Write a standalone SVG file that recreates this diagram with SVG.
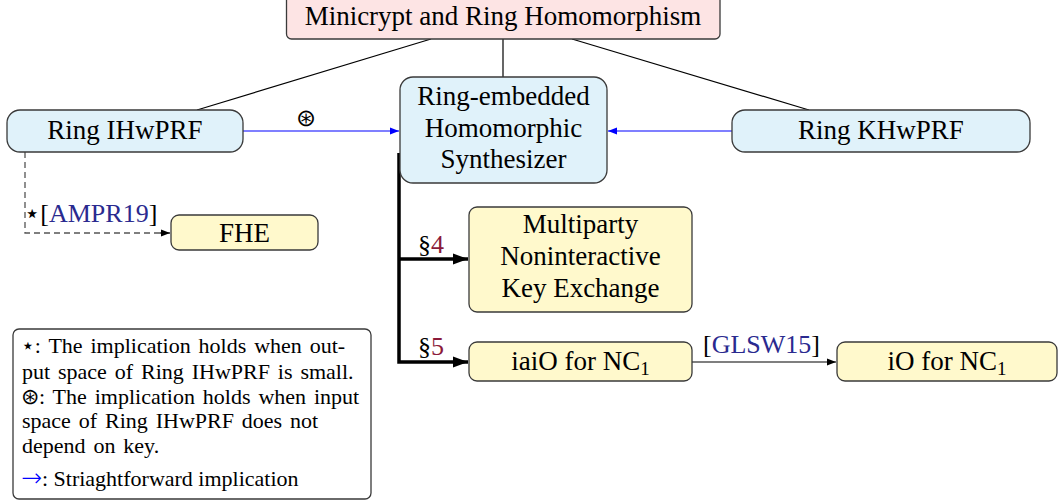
<svg xmlns="http://www.w3.org/2000/svg" width="1058" height="503" viewBox="0 0 1058 503">
<style>
.node{stroke:#3a3a3a;stroke-width:1.3}
.blue{fill:#e0f2fa}
.yel{fill:#fff9cc}
.pink{fill:#fde4e4}
.t{font-family:"Liberation Serif","Times New Roman",serif;font-size:27px;fill:#000;text-anchor:middle}
.lbl{font-family:"Liberation Serif","Times New Roman",serif;font-size:26px;fill:#000}
.lg{font-family:"Liberation Serif","Times New Roman",serif;font-size:22px;fill:#000}
.sym{font-family:"DejaVu Sans",sans-serif}
.osym{font-family:"DejaVu Sans ExtraLight","DejaVu Sans",sans-serif;font-weight:200}
.cite{fill:#2a2a8f}
.sec{fill:#8b1a3a}
.thin{fill:none;stroke:#000;stroke-width:1.2}
.bl{fill:none;stroke:#0000ff;stroke-width:1.2}
.thick{fill:none;stroke:#000;stroke-width:3.5}
.dash{fill:none;stroke:#555;stroke-width:1.3;stroke-dasharray:6,4}
</style>
<defs>
<marker id="ab" markerWidth="10" markerHeight="8" refX="9" refY="4" orient="auto" markerUnits="userSpaceOnUse"><path d="M0,0.5 L9,4 L0,7.5 Z" fill="#0000ff"/></marker>
<marker id="ak" markerWidth="10" markerHeight="8" refX="9" refY="4" orient="auto" markerUnits="userSpaceOnUse"><path d="M0,0.5 L9,4 L0,7.5 Z" fill="#000"/></marker>
<marker id="abig" markerWidth="16" markerHeight="14" refX="15" refY="7" orient="auto" markerUnits="userSpaceOnUse"><path d="M0,1.5 L15,7 L0,12.5 Z" fill="#000"/></marker>
</defs>

<g id="connectors">
<path class="thin" d="M431,39 L197,110"/>
<path class="thin" d="M503,39 L503,77"/>
<path class="thin" d="M572,39 L809,110"/>
<path class="bl" d="M243,131 H399" marker-end="url(#ab)"/>
<path class="bl" d="M732,131 H608" marker-end="url(#ab)"/>
<path class="dash" d="M25,152 V233 H162"/>
<path class="thin" d="M160,233 H170" marker-end="url(#ak)"/>
<path class="thick" d="M399,153 V362 H468" marker-end="url(#abig)"/>
<path class="thick" d="M399,259 H468" marker-end="url(#abig)"/>
<path class="thin" d="M692,362 H836" marker-end="url(#ak)"/>
<text class="osym" x="306" y="126" font-size="24" text-anchor="middle" fill="#000">⊛</text>
<text class="lbl" x="24" y="222"><tspan class="sym" font-size="26">⋆</tspan>[<tspan class="cite">AMPR19</tspan>]</text>
<text class="lbl" x="418" y="253">§<tspan class="sec">4</tspan></text>
<text class="lbl" x="418" y="355">§<tspan class="sec">5</tspan></text>
<text class="lbl" x="703" y="353">[<tspan class="cite">GLSW15</tspan>]</text>
</g>

<g id="n-top">
<rect class="node pink" x="286.5" y="-8" width="433.5" height="47" rx="5"/>
<text class="t" x="503" y="25">Minicrypt and Ring Homomorphism</text>
</g>
<g id="n-ihwprf">
<rect class="node blue" x="7" y="110" width="236" height="42" rx="13"/>
<text class="t" x="125" y="139">Ring IHwPRF</text>
</g>
<g id="n-khwprf">
<rect class="node blue" x="732" y="110" width="298" height="42" rx="13"/>
<text class="t" x="881" y="139">Ring KHwPRF</text>
</g>
<g id="n-rehs">
<rect class="node blue" x="400" y="77" width="207" height="106" rx="13"/>
<text class="t" x="503.5" y="105">Ring-embedded</text>
<text class="t" x="503.5" y="137">Homomorphic</text>
<text class="t" x="503.5" y="168">Synthesizer</text>
</g>
<g id="n-fhe">
<rect class="node yel" x="171" y="215" width="147" height="35" rx="8"/>
<text class="t" x="244.5" y="242">FHE</text>
</g>
<g id="n-nike">
<rect class="node yel" x="469" y="207" width="223" height="105" rx="8"/>
<text class="t" x="580.5" y="233">Multiparty</text>
<text class="t" x="580.5" y="265">Noninteractive</text>
<text class="t" x="580.5" y="297">Key Exchange</text>
</g>
<g id="n-iaio">
<rect class="node yel" x="469" y="342" width="223" height="39" rx="8"/>
<text class="t" x="580.5" y="370">iaiO for NC<tspan font-size="19" dy="5">1</tspan></text>
</g>
<g id="n-io">
<rect class="node yel" x="837" y="342" width="220" height="39" rx="8"/>
<text class="t" x="947" y="370">iO for NC<tspan font-size="19" dy="5">1</tspan></text>
</g>

<g id="legend">
<rect x="13" y="329" width="358" height="170" rx="6" fill="#fff" stroke="#3a3a3a" stroke-width="1.3"/>
<text class="lg" x="21" y="353" word-spacing="2.4"><tspan class="sym" font-size="22">⋆</tspan>:  The implication holds when out-</text>
<text class="lg" x="22" y="379" word-spacing="2.4">put space of Ring IHwPRF is small.</text>
<text class="lg" x="21" y="404" word-spacing="2.4"><tspan class="osym" font-size="22">⊛</tspan>:  The implication holds when input</text>
<text class="lg" x="22" y="428" word-spacing="2.4">space of Ring IHwPRF does not</text>
<text class="lg" x="22" y="453" word-spacing="2.4">depend on key.</text>
<text class="lg" x="21" y="486"><tspan fill="#0000ff" class="osym" font-size="25">→</tspan>:  Striaghtforward implication</text>
</g>
</svg>
